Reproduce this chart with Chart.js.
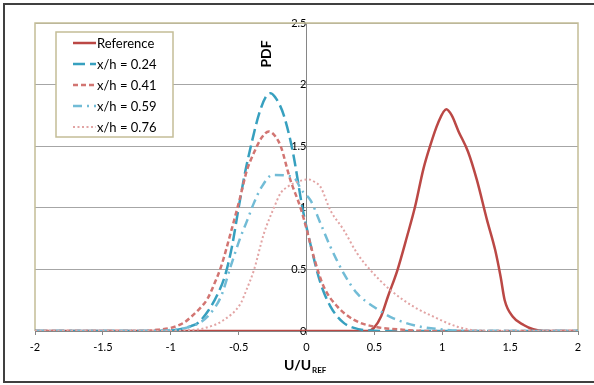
<!DOCTYPE html>
<html>
<head>
<meta charset="utf-8">
<script src="https://cdn.jsdelivr.net/npm/chart.js@4"></script>
<style>
  html, body { margin: 0; padding: 0; background: #fff; }
  canvas { display: block; }
</style>
</head>
<body>
<canvas id="myChart" width="594" height="385"></canvas>
<script>
// values
const refX = [-2, 0.45, 0.5, 0.55, 0.6, 0.67, 0.74, 0.8, 0.86, 0.91, 0.97, 1.03, 1.07, 1.12, 1.19, 1.255, 1.33, 1.39, 1.43, 1.46, 1.52, 1.6, 1.67, 1.75, 2];
const refY = [0, 0, 0.03, 0.12, 0.28, 0.495, 0.765, 1.01, 1.31, 1.5, 1.69, 1.8, 1.75, 1.62, 1.455, 1.226, 0.9, 0.657, 0.44, 0.25, 0.116, 0.049, 0.014, 0, 0];

const h24X = [-2, -1.1, -0.95, -0.85, -0.8, -0.72, -0.65, -0.6, -0.55, -0.5, -0.45, -0.41, -0.35, -0.3, -0.265, -0.22, -0.167, -0.1, -0.03, 0.03, 0.1, 0.176, 0.27, 0.35, 0.45, 0.6, 2];
const h24Y = [0, 0, 0.01, 0.04, 0.065, 0.17, 0.31, 0.45, 0.68, 1.0, 1.3, 1.5, 1.76, 1.9, 1.93, 1.88, 1.75, 1.45, 1.0, 0.7, 0.4, 0.2, 0.07, 0.025, 0.005, 0, 0];

const h41X = [-2, -1.2, -1.1, -1.0, -0.9, -0.85, -0.78, -0.73, -0.68, -0.63, -0.56, -0.49, -0.44, -0.39, -0.33, -0.277, -0.23, -0.19, -0.12, -0.044, 0, 0.054, 0.127, 0.226, 0.35, 0.5, 0.67, 0.9, 2];
const h41Y = [0, 0, 0.01, 0.025, 0.07, 0.115, 0.19, 0.26, 0.38, 0.52, 0.79, 1.08, 1.3, 1.44, 1.57, 1.62, 1.58, 1.5, 1.23, 1.0, 0.83, 0.6, 0.36, 0.2, 0.09, 0.035, 0.014, 0, 0];

const h59X = [-2, -1.1, -1.0, -0.9, -0.8, -0.73, -0.63, -0.56, -0.49, -0.436, -0.387, -0.33, -0.25, -0.14, -0.08, -0.04, 0.03, 0.103, 0.176, 0.274, 0.373, 0.495, 0.64, 0.84, 1.03, 1.2, 2];
const h59Y = [0, 0, 0.008, 0.022, 0.06, 0.116, 0.28, 0.52, 0.75, 0.9, 1.04, 1.17, 1.266, 1.26, 1.23, 1.15, 1.06, 0.874, 0.684, 0.468, 0.305, 0.197, 0.103, 0.035, 0.01, 0, 0];

const h76X = [-2, -1.0, -0.9, -0.755, -0.61, -0.485, -0.44, -0.387, -0.314, -0.24, -0.19, -0.14, -0.07, 0.017, 0.06, 0.103, 0.176, 0.274, 0.373, 0.47, 0.617, 0.79, 0.936, 1.11, 1.25, 1.4, 2];
const h76Y = [0, 0, 0.005, 0.022, 0.089, 0.224, 0.34, 0.495, 0.79, 1.0, 1.12, 1.17, 1.21, 1.23, 1.21, 1.17, 0.98, 0.82, 0.63, 0.495, 0.333, 0.197, 0.116, 0.035, 0.005, 0, 0];

const seriesNames = ["Reference", "x/h = 0.24", "x/h = 0.41", "x/h = 0.59", "x/h = 0.76"];
const xTicks = [-2, -1.5, -1, -0.5, 0, 0.5, 1, 1.5, 2];
const yTicks = [0, 0.5, 1, 1.5, 2, 2.5];

function pts(xs, ys) {
  return xs.map((x, i) => ({ x: x, y: ys[i] }));
}

const FONT = "Lato, 'Liberation Sans', sans-serif";

// frame, plot border, titles and legend box
const decor = {
  id: "decor",
  beforeDraw(chart) {
    const c = chart.ctx;
    c.save();
    c.fillStyle = "#fff";
    c.fillRect(0, 0, chart.width, chart.height);
    c.strokeStyle = "#404040";
    c.lineWidth = 2;
    c.strokeRect(4, 4, chart.width + 10, chart.height - 7);
    c.restore();
  },
  beforeDatasetsDraw(chart) {
    const a = chart.chartArea;
    const c = chart.ctx;
    c.save();
    c.strokeStyle = "#c4bd97";
    c.lineWidth = 1.5;
    c.beginPath();
    c.moveTo(a.left, a.bottom);
    c.lineTo(a.left, a.top);
    c.lineTo(a.right, a.top);
    c.lineTo(a.right, a.bottom);
    c.stroke();
    c.restore();
  },
  afterDraw(chart) {
    const c = chart.ctx;
    c.save();
    // axis titles
    c.fillStyle = "#000";
    c.font = "bold 14px " + FONT;
    c.textBaseline = "alphabetic";
    c.textAlign = "left";
    c.fillText("U/U", 284, 370);
    const w = c.measureText("U/U").width;
    c.font = "bold 8px " + FONT;
    c.fillText("REF", 284 + w + 1, 373);

    c.translate(271, 54);
    c.rotate(-Math.PI / 2);
    c.font = "bold 14px " + FONT;
    c.textAlign = "center";
    c.fillText("PDF", 0, 0);
    c.restore();

    // legend
    c.save();
    c.fillStyle = "#fff";
    c.fillRect(56, 32, 117, 105);
    c.strokeStyle = "#c4bd97";
    c.lineWidth = 1.5;
    c.strokeRect(56, 32, 117, 105);
    c.font = "13px " + FONT;
    c.textBaseline = "middle";
    c.textAlign = "left";
    chart.data.datasets.forEach((ds, i) => {
      const y = 43 + i * 21;
      c.strokeStyle = ds.borderColor;
      c.lineWidth = ds.borderWidth;
      c.setLineDash(ds.borderDash || []);
      c.beginPath();
      c.moveTo(73, y);
      c.lineTo(96, y);
      c.stroke();
      c.setLineDash([]);
      c.fillStyle = "#000";
      c.fillText(ds.label, 97, y + 1);
    });
    c.restore();
  }
};

const ctx = document.getElementById("myChart");
new Chart(ctx, {
  type: "line",
  data: {
    datasets: [
      {
        label: seriesNames[0],
        data: pts(refX, refY),
        borderColor: "#bb4845",
        borderWidth: 2.5,
        order: 5,
      },
      {
        label: seriesNames[1],
        data: pts(h24X, h24Y),
        borderColor: "#37a0bf",
        borderWidth: 2.5,
        borderDash: [12, 5],
        order: 4,
      },
      {
        label: seriesNames[2],
        data: pts(h41X, h41Y),
        borderColor: "#d27572",
        borderWidth: 2.5,
        borderDash: [5, 3],
        order: 3,
      },
      {
        label: seriesNames[3],
        data: pts(h59X, h59Y),
        borderColor: "#72bcd6",
        borderWidth: 2.5,
        borderDash: [9, 5, 2, 5],
        order: 2,
      },
      {
        label: seriesNames[4],
        data: pts(h76X, h76Y),
        borderColor: "#e2a4a4",
        borderWidth: 2,
        borderDash: [2, 2.5],
        order: 1,
      },
    ],
  },
  options: {
    responsive: false,
    animation: false,
    devicePixelRatio: 1,
    layout: { padding: { left: 35, right: 16, top: 23, bottom: 0 } },
    elements: {
      point: { radius: 0 },
      line: { cubicInterpolationMode: "monotone", fill: false },
    },
    plugins: {
      legend: { display: false },
      tooltip: { enabled: false },
    },
    scales: {
      x: {
        type: "linear",
        position: "bottom",
        min: -2,
        max: 2,
        afterBuildTicks: (s) => { s.ticks = xTicks.map((v) => ({ value: v })); },
        afterFit: (s) => { s.height = 54; },
        grid: { drawOnChartArea: false, drawTicks: true, tickLength: 4, color: "#868686" },
        border: { color: "#868686" },
        ticks: { padding: 6, color: "#000", font: { family: FONT, size: 11 }, callback: (v) => String(v) },
      },
      y: {
        type: "linear",
        position: { x: 0 },
        min: 0,
        max: 2.5,
        afterBuildTicks: (s) => { s.ticks = yTicks.map((v) => ({ value: v })); },
        grid: { color: "#a6a6a6", tickLength: 5 },
        border: { color: "#868686" },
        ticks: { padding: 7, color: "#000", font: { family: FONT, size: 11 }, callback: (v) => String(v) },
      },
    },
  },
  plugins: [decor],
});
</script>
</body>
</html>
